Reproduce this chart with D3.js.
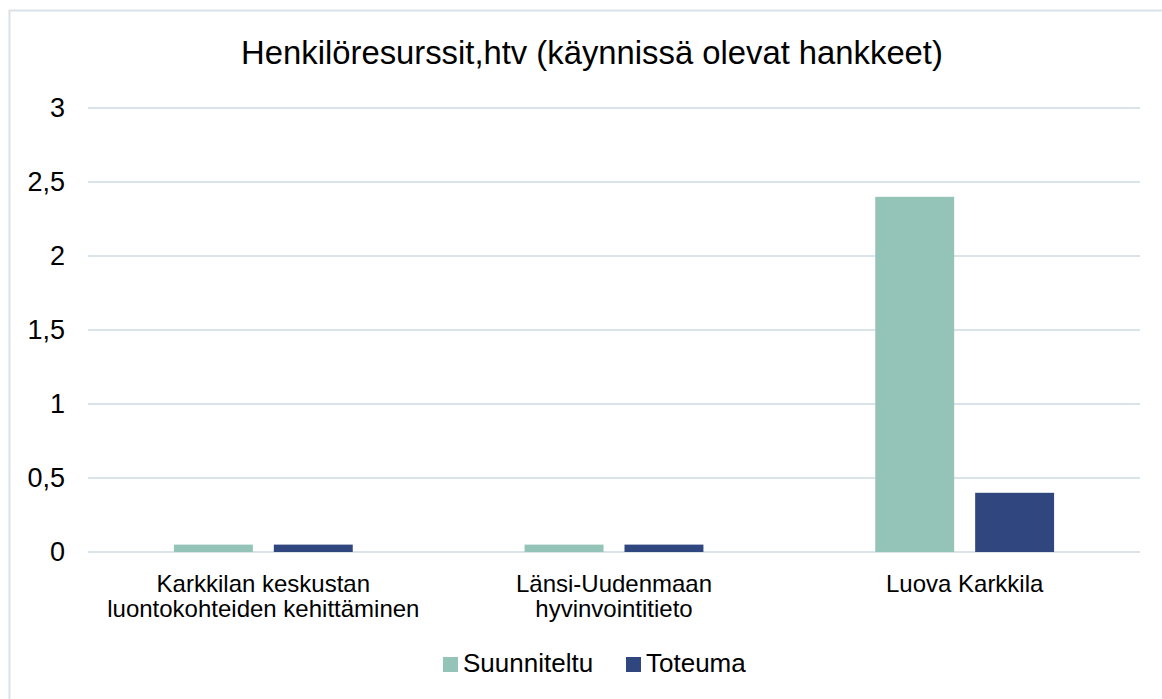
<!DOCTYPE html>
<html>
<head>
<meta charset="utf-8">
<script src="https://cdn.jsdelivr.net/npm/d3@7"></script>
<style>
  body { margin: 0; background: #fff; }
  svg { display: block; font-family: "Liberation Sans", Arial, sans-serif; }
</style>
</head>
<body>
<div id="chart"></div>
<script>
// data
var categories = [
  ["Karkkilan keskustan", "luontokohteiden kehittäminen"],
  ["Länsi-Uudenmaan", "hyvinvointitieto"],
  ["Luova Karkkila"]
];
var series = ["Suunniteltu", "Toteuma"];
var suunniteltu = [0.05, 0.05, 2.4];
var toteuma = [0.05, 0.05, 0.4];
var yTicks = [0, 0.5, 1, 1.5, 2, 2.5, 3];
var colors = ["#94c3b8", "#30467f"];

var W = 1162, H = 699;
var margin = {top: 108, right: 22, bottom: 147, left: 88};
var width = W - margin.left - margin.right,
    height = H - margin.top - margin.bottom;

var fiLocale = d3.formatLocale({decimal: ",", thousands: " ", grouping: [3], currency: ["", "€"]});
var fmt = fiLocale.format("~g");

var svg = d3.select("#chart").append("svg")
  .attr("width", W)
  .attr("height", H);

// chart border (only top/left visible in the crop)
svg.append("rect")
  .attr("x", 9.5).attr("y", 10.5)
  .attr("width", W + 20).attr("height", H + 20)
  .attr("fill", "none")
  .attr("stroke", "#d9e2e7")
  .attr("stroke-width", 2);

svg.append("text")
  .attr("x", 592)
  .attr("y", 64)
  .attr("text-anchor", "middle")
  .style("font-size", "32.8px")
  .style("fill", "#000")
  .text("Henkilöresurssit,htv (käynnissä olevat hankkeet)");

var g = svg.append("g")
  .attr("transform", "translate(" + margin.left + "," + margin.top + ")");

var x0 = d3.scaleBand()
  .domain(d3.range(categories.length))
  .range([0, width])
  .padding(0);

var bw = x0.bandwidth();
var x1 = d3.scaleBand()
  .domain(series)
  .range([bw * 0.245, bw * 0.755])
  .paddingInner(0.21)
  .paddingOuter(0);

var y = d3.scaleLinear().domain([0, 3]).range([height, 0]);

// gridlines
g.selectAll(".grid")
  .data(yTicks)
  .enter().append("line")
  .attr("class", "grid")
  .attr("x1", 0).attr("x2", width)
  .attr("y1", function(d) { return y(d); })
  .attr("y2", function(d) { return y(d); })
  .attr("stroke", "#d9e3e8")
  .attr("stroke-width", 2);

// y labels
var yAxis = g.append("g")
  .call(d3.axisLeft(y).tickValues(yTicks).tickFormat(fmt).tickSize(0).tickPadding(23));
yAxis.select(".domain").remove();
yAxis.selectAll("text")
  .style("font-size", "27px")
  .style("font-family", "Liberation Sans, Arial, sans-serif")
  .attr("fill", "#000");

// bars
var rows = categories.map(function(c, i) {
  return [{s: series[0], v: suunniteltu[i]}, {s: series[1], v: toteuma[i]}];
});

var groups = g.selectAll(".grp")
  .data(rows)
  .enter().append("g")
  .attr("class", "grp")
  .attr("transform", function(d, i) { return "translate(" + x0(i) + ",0)"; });

groups.selectAll("rect")
  .data(function(d) { return d; })
  .enter().append("rect")
  .attr("x", function(d) { return x1(d.s); })
  .attr("width", x1.bandwidth())
  .attr("y", function(d) { return y(d.v); })
  .attr("height", function(d) { return y(0) - y(d.v); })
  .attr("fill", function(d, i) { return colors[i]; });

// category labels
var labels = g.selectAll(".cat")
  .data(categories)
  .enter().append("text")
  .attr("class", "cat")
  .attr("text-anchor", "middle")
  .style("font-size", "24px")
  .attr("transform", function(d, i) { return "translate(" + (x0(i) + bw / 2) + "," + (height + 40) + ")"; });

labels.selectAll("tspan")
  .data(function(d) { return d; })
  .enter().append("tspan")
  .attr("x", 0)
  .attr("dy", function(d, i) { return i === 0 ? 0 : 25; })
  .text(function(d) { return d; });

// legend
var legend = svg.append("g").attr("transform", "translate(443,657)");
var lx = [0, 183];
series.forEach(function(s, i) {
  var it = legend.append("g").attr("transform", "translate(" + lx[i] + ",0)");
  it.append("rect").attr("width", 15).attr("height", 15).attr("fill", colors[i]);
  it.append("text").attr("x", 20).attr("y", 15).style("font-size", "26px").text(s);
});
</script>
</body>
</html>
